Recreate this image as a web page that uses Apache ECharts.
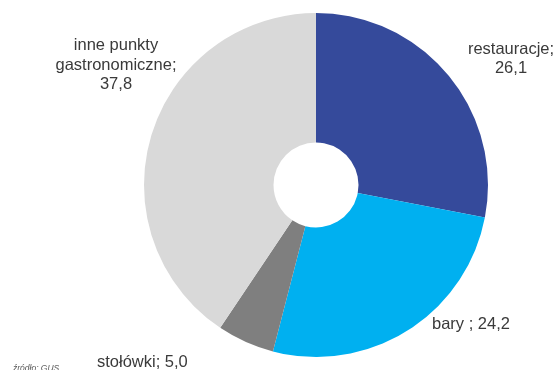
<!DOCTYPE html>
<html>
<head>
<meta charset="utf-8">
<script src="https://cdn.jsdelivr.net/npm/echarts@6/dist/echarts.min.js"></script>
<style>
  html, body { margin: 0; padding: 0; background: #ffffff; }
  #chart { width: 555px; height: 370px; }
</style>
</head>
<body>
<div id="chart"></div>
<script>
// Struktura placówek gastronomicznych (%)
const categories = ['restauracje', 'bary ', 'stołówki', 'inne punkty\ngastronomiczne'];
const shares = [26.1, 24.2, 5.0, 37.8];
const sliceColors = ['#354A9B', '#00B0F0', '#7F7F7F', '#D9D9D9'];
const sourceNote = 'źródło: GUS';

// separator between name and value, and where each label sits
const labelSeparators = [';\n', '; ', '; ', ';\n'];
const labelPlacement = [
  { x: 511, y: 59, align: 'center' },
  { x: 432, y: 324, align: 'left' },
  { x: 97, y: 362, align: 'left' },
  { x: 116, y: 65, align: 'center' }
];

const fmt = v => v.toFixed(1).replace('.', ',');

const chart = echarts.init(document.getElementById('chart'), null, { renderer: 'canvas' });

chart.setOption({
  animation: false,
  backgroundColor: '#ffffff',
  textStyle: { fontFamily: 'Liberation Sans, Arial, sans-serif' },
  series: [{
    type: 'pie',
    center: [316, 185],
    radius: [42.5, 172],
    startAngle: 90,
    clockwise: true,
    avoidLabelOverlap: false,
    silent: true,
    data: categories.map((name, i) => ({
      name: name,
      value: shares[i],
      itemStyle: { color: sliceColors[i] }
    })),
    itemStyle: { borderWidth: 0 },
    label: {
      show: true,
      position: 'outside',
      fontFamily: 'Liberation Sans, Arial, sans-serif',
      fontSize: 16.5,
      lineHeight: 19.5,
      color: '#3a3a3a',
      formatter: p => p.name + labelSeparators[p.dataIndex] + fmt(p.value)
    },
    labelLine: { show: false },
    labelLayout: params => {
      const pl = labelPlacement[params.dataIndex];
      return { x: pl.x, y: pl.y, align: pl.align, verticalAlign: 'middle' };
    }
  }],
  graphic: [{
    type: 'text',
    left: 13,
    top: 364,
    style: {
      text: sourceNote,
      fontFamily: 'Liberation Sans, Arial, sans-serif',
      fontSize: 8.5,
      fontStyle: 'italic',
      fill: '#595959'
    }
  }]
});
</script>
</body>
</html>
